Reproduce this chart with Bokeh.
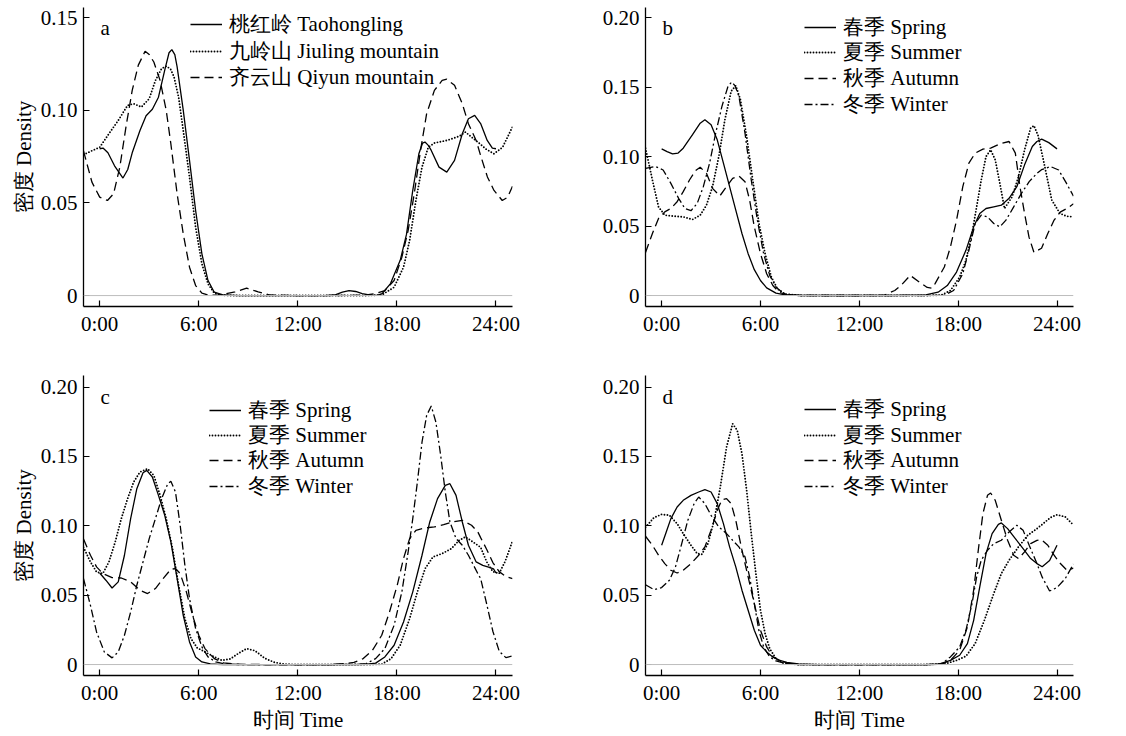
from bokeh.plotting import figure
from bokeh.models import (Range1d, Legend, LegendItem, Label, Span, FixedTicker,
                          CustomJSTickFormatter)
from bokeh.layouts import column, row
from bokeh.embed import file_html
from bokeh.resources import INLINE

# ---------------- data (hour, density) ----------------
SITE_LABELS = ["桃红岭 Taohongling", "九岭山 Jiuling mountain", "齐云山 Qiyun mountain"]
SEASON_LABELS = ["春季 Spring", "夏季 Summer", "秋季 Autumn", "冬季 Winter"]
X_TICKS = [0, 6, 12, 18, 24]
Y_TICKS_A = [0, 0.05, 0.10, 0.15]
Y_TICKS_BCD = [0, 0.05, 0.10, 0.15, 0.20]

A_TAO = [(0,0.0792),(0.2,0.0796),(0.5,0.077),(0.9,0.070),(1.41,0.0634),(1.7,0.068),(1.97,0.077),(2.44,0.089),(2.81,0.097),(3.19,0.1005),(3.56,0.107),(3.94,0.1216),(4.2,0.131),(4.37,0.1327),(4.55,0.130),(4.69,0.1234),(5.06,0.100),(5.44,0.0729),(5.81,0.0459),(6.19,0.0225),(6.56,0.0081),(6.94,0.0018),(7.5,0.0003),(8.5,0),(10,0),(12,0),(13.6,0),(14.3,0.0005),(14.7,0.0018),(15.1,0.0027),(15.5,0.0022),(15.9,0.0010),(16.4,0.0002),(16.8,0.0001),(17.1,0.001),(17.6,0.0063),(18.2,0.019),(18.58,0.033),(18.96,0.0567),(19.33,0.0765),(19.55,0.0822),(19.7,0.0828),(19.9,0.081),(20.08,0.0783),(20.55,0.0693),(21.02,0.0666),(21.49,0.0729),(21.96,0.0873),(22.33,0.0954),(22.71,0.0972),(23.07,0.0928),(23.47,0.0837),(23.78,0.0795),(24.0,0.0792)]
A_JIU = [(-0.98,0.076),(-0.5,0.078),(0,0.080),(0.56,0.0873),(1.125,0.0945),(1.69,0.1026),(2.06,0.1035),(2.53,0.1017),(3.0,0.1062),(3.375,0.116),(3.75,0.1225),(4.05,0.1238),(4.3,0.122),(4.5,0.118),(4.78,0.107),(5.06,0.0891),(5.44,0.0639),(5.81,0.0369),(6.19,0.0171),(6.56,0.0063),(6.94,0.0013),(7.4,0.0002),(8,0),(10,0),(12,0),(14,0),(16,0),(17.08,0.0003),(17.83,0.0045),(18.4,0.0153),(18.77,0.0297),(19.15,0.0513),(19.52,0.0693),(19.9,0.080),(20.27,0.0823),(21.02,0.0837),(21.77,0.0859),(22.15,0.0882),(22.52,0.0855),(22.9,0.0828),(23.4,0.079),(23.88,0.0765),(24.4,0.080),(25.0,0.0910)]
A_QIY = [(-0.98,0.078),(-0.47,0.0612),(0,0.0531),(0.47,0.0513),(0.84,0.0549),(1.22,0.0693),(1.59,0.0909),(1.97,0.1107),(2.34,0.1243),(2.75,0.1318),(3.0,0.130),(3.28,0.126),(3.66,0.116),(4.03,0.0999),(4.31,0.0819),(4.69,0.0549),(5.06,0.0333),(5.44,0.0153),(5.81,0.0054),(6.19,0.0013),(6.6,0.0002),(7.2,0.0003),(8.2,0.002),(8.9,0.004),(9.6,0.002),(10.3,0.0003),(12,0),(14,0),(16,0.0002),(16.7,0.001),(17.27,0.0027),(17.83,0.0081),(18.3,0.0207),(18.68,0.0351),(19.05,0.0549),(19.43,0.0783),(19.8,0.0981),(20.27,0.1107),(20.74,0.1161),(21.02,0.1167),(21.49,0.1134),(21.96,0.1035),(22.33,0.0927),(22.8,0.0837),(23.07,0.0755),(23.48,0.064),(23.88,0.0567),(24.38,0.0513),(24.7,0.053),(25.0,0.0590)]

B_SPR = [(0,0.1055),(0.33,0.1035),(0.66,0.1019),(1.0,0.1025),(1.31,0.106),(1.875,0.1157),(2.34,0.124),(2.625,0.1265),(3.0,0.1229),(3.375,0.112),(3.75,0.0952),(4.125,0.0783),(4.5,0.0614),(4.875,0.0446),(5.25,0.0301),(5.625,0.0186),(6.0,0.0108),(6.375,0.0055),(6.94,0.0017),(7.5,0.0004),(8.5,0),(10,0),(12,0),(14,0),(16.03,0.0004),(16.78,0.0024),(17.34,0.0072),(17.9,0.0169),(18.47,0.0325),(18.94,0.0494),(19.31,0.059),(19.69,0.0626),(20.16,0.0638),(20.62,0.065),(21.09,0.0699),(21.56,0.0783),(22.03,0.094),(22.5,0.1072),(22.78,0.1108),(23.07,0.1125),(23.5,0.110),(24.0,0.1055)]
B_SUM = [(-0.98,0.106),(-0.56,0.0831),(-0.19,0.0638),(0.19,0.0578),(0.75,0.0571),(1.31,0.0566),(1.875,0.0547),(2.34,0.0578),(2.72,0.065),(3.09,0.0783),(3.47,0.100),(3.84,0.1265),(4.22,0.147),(4.5,0.151),(4.78,0.141),(5.16,0.1144),(5.53,0.0831),(5.91,0.0518),(6.28,0.0301),(6.66,0.0133),(7.03,0.0048),(7.5,0.001),(8.5,0),(10,0),(12,0),(14,0),(16,0),(16.97,0.0003),(17.53,0.0036),(18.09,0.0133),(18.47,0.0253),(18.84,0.0446),(19.12,0.0638),(19.4,0.0831),(19.69,0.100),(19.97,0.1048),(20.25,0.0976),(20.53,0.0807),(20.81,0.0626),(21.28,0.0711),(21.66,0.0855),(22.03,0.1048),(22.4,0.1205),(22.6,0.1222),(22.85,0.115),(23.17,0.0976),(23.68,0.0687),(24.18,0.059),(24.6,0.057),(25.0,0.0566)]
B_AUT = [(-0.98,0.031),(-0.56,0.0446),(-0.19,0.0554),(0.19,0.0602),(0.56,0.0626),(0.94,0.0675),(1.31,0.0747),(1.69,0.0831),(2.06,0.0899),(2.34,0.0923),(2.72,0.0879),(3.09,0.0771),(3.53,0.0716),(3.94,0.0783),(4.31,0.0843),(4.69,0.086),(5.06,0.0819),(5.34,0.0687),(5.625,0.0494),(6.0,0.0301),(6.375,0.0157),(6.75,0.0072),(7.125,0.0024),(7.6,0.0005),(8.5,0),(10,0),(12,0),(13.5,0.0002),(14.15,0.0036),(14.55,0.0075),(15.09,0.0145),(15.65,0.0096),(16.12,0.0058),(16.4,0.0053),(16.59,0.0084),(17.16,0.0205),(17.53,0.0349),(17.9,0.0542),(18.28,0.0783),(18.65,0.0952),(19.03,0.1024),(19.5,0.1053),(19.97,0.106),(20.53,0.1091),(21.09,0.1108),(21.47,0.1024),(21.75,0.0783),(22.03,0.059),(22.3,0.042),(22.6,0.031),(23.06,0.034),(23.44,0.0446),(23.81,0.054),(24.19,0.060),(24.6,0.0626),(25.0,0.0660)]
B_WIN = [(-0.98,0.0914),(-0.375,0.0928),(0.09,0.0903),(0.56,0.0807),(1.03,0.0699),(1.41,0.0626),(1.78,0.061),(2.16,0.0663),(2.53,0.0783),(2.91,0.0952),(3.28,0.1168),(3.66,0.1361),(4.03,0.1506),(4.25,0.1535),(4.45,0.151),(4.69,0.1434),(5.06,0.1168),(5.44,0.0831),(5.81,0.0542),(6.19,0.0301),(6.56,0.0145),(6.94,0.006),(7.4,0.0015),(8.0,0.0002),(10,0),(12,0),(14,0),(16,0),(17.16,0.0002),(17.72,0.0036),(18.28,0.0157),(18.65,0.0325),(19.03,0.0518),(19.4,0.0578),(19.78,0.0566),(20.16,0.0518),(20.53,0.0494),(20.9,0.0542),(21.37,0.0638),(21.84,0.0735),(22.31,0.0819),(22.78,0.0879),(23.06,0.0905),(23.6,0.0928),(24.1,0.0903),(24.56,0.081),(25.0,0.0715)]

C_SPR = [(0,0.066),(0.375,0.0608),(0.75,0.0552),(1.125,0.0596),(1.5,0.0788),(1.875,0.1052),(2.25,0.1268),(2.625,0.1383),(2.85,0.140),(3.19,0.1352),(3.56,0.122),(3.94,0.1076),(4.31,0.0884),(4.69,0.062),(5.06,0.0355),(5.44,0.0163),(5.81,0.0055),(6.19,0.0019),(6.7,0.0004),(7.5,0),(9,0),(12,0),(14,0),(15.5,0),(16.2,0.0002),(16.71,0.001),(17.27,0.0055),(17.83,0.0139),(18.4,0.0307),(18.96,0.0524),(19.52,0.0788),(19.99,0.1028),(20.46,0.1196),(20.93,0.1292),(21.21,0.1304),(21.58,0.122),(21.96,0.1028),(22.33,0.086),(22.8,0.074),(23.2,0.0715),(23.6,0.070),(23.85,0.069),(24.0,0.066)]
C_SUM = [(-0.98,0.0845),(-0.56,0.074),(-0.19,0.0668),(0.19,0.0656),(0.56,0.074),(0.94,0.0884),(1.31,0.1052),(1.69,0.1196),(2.06,0.1316),(2.44,0.1388),(2.9,0.1412),(3.28,0.1364),(3.66,0.122),(4.03,0.1052),(4.41,0.0836),(4.78,0.0572),(5.16,0.0331),(5.53,0.0187),(5.91,0.012),(6.375,0.0091),(6.94,0.0055),(7.4,0.003),(7.9,0.004),(8.4,0.008),(8.9,0.0115),(9.4,0.010),(10.0,0.0045),(10.6,0.0015),(11.2,0.0003),(12,0),(14,0),(16,0),(17.08,0.0002),(17.65,0.0043),(18.2,0.0139),(18.77,0.0331),(19.24,0.0524),(19.71,0.0692),(20.18,0.0776),(20.74,0.080),(21.3,0.0836),(21.77,0.0896),(22.15,0.092),(22.61,0.0884),(23.07,0.0845),(23.44,0.074),(23.81,0.067),(24.19,0.0656),(24.56,0.0745),(25.0,0.0890)]
C_AUT = [(-0.98,0.0905),(-0.56,0.0788),(-0.19,0.0704),(0.19,0.0656),(0.75,0.0627),(1.31,0.0624),(1.875,0.0596),(2.44,0.0536),(2.9,0.0512),(3.375,0.0548),(3.84,0.062),(4.31,0.0687),(4.59,0.0692),(4.875,0.0656),(5.25,0.0524),(5.625,0.0355),(6.0,0.0211),(6.375,0.0115),(6.94,0.0043),(7.5,0.0012),(8.3,0.0002),(10,0),(12,0),(14,0),(14.83,0.0007),(15.4,0.0015),(15.96,0.0043),(16.52,0.0103),(17.08,0.0211),(17.55,0.0379),(18.02,0.0572),(18.4,0.0764),(18.77,0.0908),(19.15,0.0968),(19.71,0.0985),(20.27,0.0992),(20.83,0.1009),(21.4,0.1028),(21.96,0.104),(22.52,0.1004),(22.9,0.0956),(23.07,0.0915),(23.44,0.083),(23.81,0.0735),(24.19,0.067),(24.6,0.0635),(25.0,0.0620)]
C_WIN = [(-0.98,0.062),(-0.56,0.0427),(-0.19,0.0235),(0.28,0.0091),(0.75,0.0048),(1.125,0.0091),(1.5,0.0211),(1.875,0.0379),(2.25,0.0572),(2.625,0.074),(3.0,0.0908),(3.375,0.1052),(3.75,0.1196),(4.125,0.1304),(4.31,0.1321),(4.59,0.1244),(4.875,0.1004),(5.16,0.0716),(5.44,0.0476),(5.81,0.0259),(6.19,0.0127),(6.56,0.0055),(7.03,0.0019),(7.6,0.0004),(8.5,0),(10,0),(12,0),(14,0),(15.5,0.0002),(16.15,0.0007),(16.71,0.0043),(17.27,0.0115),(17.83,0.0283),(18.3,0.0524),(18.68,0.0812),(18.96,0.1052),(19.24,0.1316),(19.52,0.1604),(19.8,0.1796),(20.08,0.1864),(20.36,0.1748),(20.65,0.1508),(20.93,0.1244),(21.21,0.1028),(21.58,0.0908),(21.96,0.086),(22.33,0.0788),(22.9,0.0656),(23.07,0.062),(23.44,0.0435),(23.81,0.024),(24.2,0.0095),(24.6,0.005),(25.0,0.0062)]

D_SPR = [(0,0.086),(0.28,0.0956),(0.56,0.1052),(0.94,0.1136),(1.31,0.1184),(1.78,0.122),(2.25,0.1244),(2.625,0.1261),(3.0,0.1244),(3.375,0.116),(3.75,0.1016),(4.125,0.0848),(4.5,0.0704),(4.875,0.0536),(5.25,0.0391),(5.625,0.0247),(6.0,0.0139),(6.375,0.0091),(6.75,0.0055),(7.125,0.0031),(7.6,0.0015),(8.3,0.0004),(9.5,0),(12,0),(14,0),(16,0),(16.78,0.0002),(17.53,0.003),(18.09,0.0067),(18.56,0.0151),(18.94,0.0319),(19.31,0.056),(19.69,0.08),(20.06,0.0944),(20.44,0.1011),(20.62,0.1021),(21.0,0.098),(21.47,0.0908),(21.94,0.0836),(22.4,0.0764),(22.78,0.0728),(23.1,0.0705),(23.55,0.075),(24.0,0.086)]
D_SUM = [(-0.98,0.099),(-0.47,0.1059),(0,0.1083),(0.47,0.1076),(0.94,0.1016),(1.31,0.0944),(1.78,0.086),(2.16,0.080),(2.44,0.0795),(2.81,0.0872),(3.19,0.104),(3.56,0.128),(3.94,0.1568),(4.31,0.1736),(4.59,0.1688),(4.875,0.152),(5.16,0.1256),(5.44,0.0944),(5.72,0.0656),(6.0,0.0391),(6.28,0.0223),(6.56,0.0115),(6.94,0.0043),(7.4,0.001),(8.2,0),(10,0),(12,0),(14,0),(16,0),(17.2,0.0005),(17.9,0.003),(18.47,0.006),(19.03,0.0151),(19.59,0.0319),(20.16,0.0512),(20.62,0.0656),(21.09,0.0752),(21.66,0.0848),(22.22,0.0932),(22.78,0.098),(23.2,0.102),(23.6,0.106),(24.0,0.108),(24.5,0.1065),(25.0,0.1005)]
D_AUT = [(-0.98,0.0925),(-0.56,0.086),(-0.19,0.0788),(0.19,0.0728),(0.56,0.068),(0.94,0.066),(1.31,0.068),(1.78,0.0728),(2.25,0.0788),(2.625,0.0848),(3.0,0.0968),(3.375,0.1112),(3.66,0.1189),(3.94,0.1196),(4.22,0.116),(4.5,0.104),(4.875,0.0824),(5.25,0.0632),(5.625,0.0439),(6.0,0.0247),(6.375,0.0127),(6.75,0.0055),(7.125,0.0031),(7.6,0.001),(8.3,0),(10,0),(12,0),(14,0),(16,0),(17.0,0.0003),(17.53,0.003),(18.09,0.0103),(18.56,0.0271),(18.94,0.0536),(19.22,0.0824),(19.5,0.1088),(19.78,0.122),(19.97,0.1237),(20.25,0.1184),(20.62,0.104),(21.0,0.0896),(21.37,0.0788),(21.66,0.0764),(22.03,0.0812),(22.4,0.0872),(22.78,0.0895),(23.06,0.090),(23.44,0.086),(23.81,0.079),(24.19,0.073),(24.6,0.068),(25.0,0.0695)]
D_WIN = [(-0.98,0.0575),(-0.47,0.054),(0,0.0555),(0.47,0.0608),(0.84,0.0704),(1.22,0.0872),(1.59,0.104),(1.97,0.116),(2.25,0.1208),(2.625,0.116),(3.0,0.1076),(3.47,0.0992),(3.94,0.0944),(4.31,0.0896),(4.69,0.0848),(5.06,0.0776),(5.34,0.0632),(5.625,0.0439),(5.9,0.0247),(6.19,0.0127),(6.56,0.0055),(6.94,0.0026),(7.5,0.0008),(8.3,0),(10,0),(12,0),(14,0),(16,0),(16.97,0.0003),(17.53,0.0055),(18.09,0.0127),(18.47,0.0247),(18.84,0.0439),(19.12,0.0632),(19.4,0.0752),(19.78,0.0824),(20.16,0.0872),(20.62,0.0896),(21.09,0.0956),(21.56,0.1004),(21.94,0.0968),(22.31,0.086),(22.78,0.0728),(23.1,0.063),(23.55,0.053),(24.0,0.0555),(24.5,0.062),(25.0,0.0725)]

# ---------------- styling ----------------
LAT_FONT = "'Liberation Serif'"
FS = "21px"
DASHES = ["solid", "0 3", "9 5", "8 3 2 3"]
WIDTHS = [1.3, 1.9, 1.3, 1.3]
CAPS = ["butt", "round", "butt", "butt"]
X_LO, X_HI = -0.98, 25.0
LEG_ITEM_H = 28  # rendered height of one legend entry


def make_panel(letter, series, labels, yrange, yticks, width, height, borders,
               legend_x, legend_rows, letter_drop, ylabel, xlabel):
    bl, br, bt, bb = borders
    p = figure(width=width, height=height, output_backend="svg", toolbar_location=None,
               x_range=Range1d(X_LO, X_HI), y_range=Range1d(*yrange),
               min_border_left=bl, min_border_right=br, min_border_top=bt,
               min_border_bottom=bb)
    p.xgrid.visible = False
    p.ygrid.visible = False
    p.outline_line_color = None

    for ax in (p.xaxis[0], p.yaxis[0]):
        ax.axis_line_color = "black"
        ax.axis_line_width = 1.3
        ax.major_tick_line_color = "black"
        ax.major_tick_line_width = 1.2
        ax.major_tick_in = 6
        ax.major_tick_out = 0
        ax.minor_tick_line_color = None
        ax.major_label_text_font = LAT_FONT
        ax.major_label_text_font_size = FS
        ax.major_label_text_color = "black"
        ax.axis_label_text_font = LAT_FONT
        ax.axis_label_text_font_size = FS
        ax.axis_label_text_font_style = "normal"
        ax.axis_label_text_color = "black"

    p.xaxis.ticker = FixedTicker(ticks=X_TICKS)
    p.xaxis.formatter = CustomJSTickFormatter(code="return Math.round(tick) + ':00';")
    p.xaxis.major_label_standoff = 5
    p.yaxis.ticker = FixedTicker(ticks=yticks)
    p.yaxis.formatter = CustomJSTickFormatter(
        code="return Math.abs(tick) < 1e-9 ? '0' : tick.toFixed(2);")
    p.yaxis.major_label_standoff = 6
    if ylabel:
        p.yaxis.axis_label = ylabel
        p.yaxis.axis_label_standoff = 2
    if xlabel:
        p.xaxis.axis_label = xlabel
        p.xaxis.axis_label_standoff = 0

    p.add_layout(Span(location=0, dimension="width", line_color="#bdbdbd", line_width=1))

    frame_h = height - bt - bb
    for data, lab, dash, lw, cap, row_c in zip(series, labels, DASHES, WIDTHS, CAPS,
                                               legend_rows):
        xs = [d[0] for d in data]
        ys = [d[1] for d in data]
        r = p.line(xs, ys, line_color="black", line_width=lw, line_dash=dash, line_cap=cap)
        # one legend per entry so each row sits exactly where the reference has it
        vy = frame_h - row_c - LEG_ITEM_H / 2
        leg = Legend(items=[LegendItem(label=lab, renderers=[r])], location=(legend_x, vy),
                     orientation="vertical", glyph_width=32, glyph_height=24,
                     label_height=24, label_standoff=7, spacing=0, padding=0, margin=0,
                     border_line_color=None, background_fill_alpha=0,
                     label_text_font=LAT_FONT, label_text_font_size=FS,
                     label_text_color="black")
        p.add_layout(leg)

    p.add_layout(Label(x=17, y=frame_h - letter_drop, x_units="screen", y_units="screen",
                       text=letter, text_font=LAT_FONT, text_font_size=FS,
                       text_color="black", text_baseline="alphabetic"))
    return p


# legend row centres are given relative to the top of each plot frame
pa = make_panel("a", [A_TAO, A_JIU, A_QIY], SITE_LABELS, (-0.0059, 0.1554), Y_TICKS_A,
                563, 360, (83, 51, 7, 54), 107, [17, 43.7, 70.3], 20,
                "密度 Density", None)
pb = make_panel("b", [B_SPR, B_SUM, B_AUT, B_WIN], SEASON_LABELS, (-0.0079, 0.2072),
                Y_TICKS_BCD, 561, 360, (82, 51, 7, 54), 159, [19.7, 45.3, 71.3, 97], 20,
                None, None)
pc = make_panel("c", [C_SPR, C_SUM, C_AUT, C_WIN], SEASON_LABELS, (-0.0079, 0.2084),
                Y_TICKS_BCD, 563, 376, (83, 51, 15, 61), 126, [35, 60, 85, 110.7], 21,
                "密度 Density", "时间 Time")
pd_ = make_panel("d", [D_SPR, D_SUM, D_AUT, D_WIN], SEASON_LABELS, (-0.0079, 0.2084),
                 Y_TICKS_BCD, 561, 376, (82, 51, 15, 61), 159, [34.3, 60, 85, 110.7], 21,
                 None, "时间 Time")

layout = column(row(pa, pb), row(pc, pd_))
open("out.html", "w").write(file_html(layout, INLINE))
